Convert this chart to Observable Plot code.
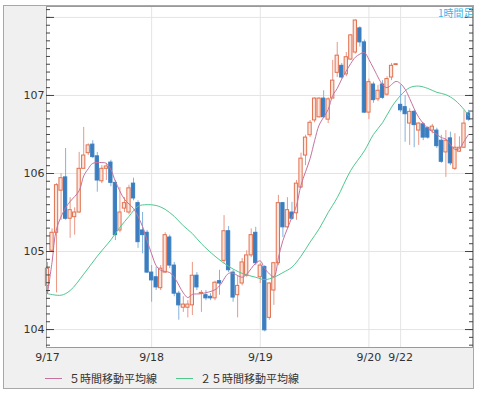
<!DOCTYPE html>
<html><head><meta charset="utf-8">
<script src="https://cdn.jsdelivr.net/npm/d3@7"></script>
<script src="https://cdn.jsdelivr.net/npm/@observablehq/plot@0.6"></script>
<style>body{margin:0;background:#fff}#chart{width:478px;height:395px}</style>
</head><body><div id="chart"></div>
<script>
const opens = [104.56,105.01,105.24,105.78,105.95,105.42,105.44,105.50,106.06,106.26,
106.37,106.22,105.90,106.06,106.14,105.88,105.27,105.55,105.50,105.87,
105.62,105.27,105.24,104.73,104.67,104.53,104.73,105.18,104.82,104.46,
104.28,104.28,104.31,104.69,104.46,104.44,104.42,104.40,104.62,104.88,
105.26,104.73,104.44,104.59,104.69,104.95,105.24,104.67,104.80,104.15,
104.50,104.85,105.62,105.31,105.50,105.49,105.82,106.23,106.49,106.68,
106.72,106.96,106.69,106.96,107.29,107.38,107.27,107.46,107.55,107.86,
107.68,106.78,107.14,106.95,107.14,107.01,107.23,107.39,106.88,106.85,
106.64,106.79,106.55,106.63,106.58,106.55,106.55,106.42,106.27,106.45,
106.06,106.28,106.33,106.77];
const highs = [104.86,105.29,105.87,106.00,106.32,105.69,105.56,106.27,106.59,106.38,
106.42,106.27,106.10,106.13,106.17,105.91,105.82,105.69,105.85,105.94,
105.65,105.50,105.27,104.82,104.80,104.82,105.24,105.21,104.86,104.49,
104.42,104.37,104.86,104.73,104.50,104.50,104.46,104.62,104.76,105.46,
105.32,104.76,104.69,104.91,105.01,105.29,105.31,104.85,104.82,104.60,
104.86,105.72,105.63,105.69,105.63,105.91,106.26,106.49,106.68,106.97,
106.97,107.06,106.97,107.45,107.68,107.41,107.55,107.78,107.97,107.88,
107.71,107.21,107.17,107.13,107.19,107.24,107.41,107.41,107.13,107.00,
106.83,106.81,106.65,106.65,106.60,106.63,106.58,106.49,106.55,106.53,
106.51,106.47,106.81,106.81];
const lows = [104.46,104.99,104.47,105.40,105.40,105.17,105.21,105.49,106.06,106.23,
106.19,105.76,105.87,105.91,105.83,105.14,105.24,105.50,105.47,105.65,
105.04,104.97,104.72,104.35,104.50,104.50,104.72,104.78,104.42,104.12,
104.22,104.15,104.18,104.50,104.22,104.37,104.37,104.37,104.44,104.85,
104.73,104.35,104.15,104.56,104.67,104.92,104.82,104.59,103.97,104.12,
104.31,104.82,105.18,105.29,105.40,105.40,105.81,106.10,106.46,106.65,
106.71,106.71,106.64,106.96,107.23,107.21,107.24,107.45,107.53,107.62,
106.77,106.69,106.90,106.92,106.95,106.99,107.19,107.38,106.78,106.40,
106.36,106.33,106.36,106.42,106.44,106.51,106.32,106.13,105.95,106.10,
106.04,106.27,106.32,106.67];
const closes = [104.78,105.24,105.85,105.94,105.42,105.53,105.50,106.06,106.23,106.36,
106.21,105.91,106.06,106.09,105.88,105.21,105.50,105.62,105.81,105.68,
105.12,105.21,104.73,104.63,104.54,104.78,105.21,104.82,104.46,104.31,
104.32,104.32,104.69,104.54,104.47,104.40,104.40,104.60,104.59,105.26,
104.76,104.41,104.56,104.86,104.95,105.21,104.85,104.82,103.99,104.59,
104.85,105.62,105.31,105.53,105.42,105.87,106.19,106.46,106.65,106.96,
106.96,106.72,106.95,107.19,107.51,107.23,107.49,107.77,107.96,107.68,
106.78,107.17,106.94,107.06,106.97,107.21,107.38,107.40,106.81,106.76,
106.79,106.62,106.64,106.46,106.46,106.60,106.35,106.15,106.42,106.13,
106.33,106.33,106.64,106.69];

const ma5Idx = [0,1,2,4,5,7,8,9,10,12,13,14,15,17,19,21,22,23,24,25,27,28,30,31,32,34,37,38,40,41,43,44,46,47,48,50,51,52,54,55,56,58,59,60,61,62,63,64,65,67,68,69,70,71,72,74,75,77,78,79,80,81,82,84,86,87,88,90,91,92,93];
const ma5Val = [104.46,104.86,105.29,105.56,105.64,105.78,105.97,106.06,106.13,106.14,106.13,106.05,105.90,105.67,105.55,105.32,105.14,104.97,104.82,104.76,104.73,104.67,104.47,104.41,104.45,104.46,104.51,104.56,104.72,104.72,104.67,104.71,104.85,104.88,104.78,104.68,104.92,105.14,105.44,105.59,105.85,106.19,106.42,106.62,106.72,106.82,107.00,107.09,107.21,107.41,107.49,107.53,107.55,107.46,107.35,107.14,107.10,107.18,107.15,107.08,106.96,106.83,106.72,106.58,106.50,106.46,106.44,106.31,106.32,106.41,106.50];
const ma25Idx = [0,3,5,8,11,14,16,18,20,22,24,26,28,30,32,34,37,40,43,46,48,50,52,54,56,58,60,62,64,67,70,72,74,76,78,80,82,84,86,88,90,92,93];
const ma25Val = [104.46,104.44,104.50,104.71,104.94,105.15,105.31,105.45,105.58,105.60,105.59,105.54,105.45,105.33,105.23,105.10,104.94,104.81,104.72,104.67,104.64,104.67,104.73,104.80,104.94,105.12,105.29,105.50,105.69,106.04,106.29,106.50,106.65,106.85,107.00,107.10,107.12,107.09,107.04,107.01,106.94,106.82,106.74];

const dayIdx = [0,23,47,71,78];
const dayLabels = ["9/17","9/18","9/19","9/20","9/22"];
const yLabels = [104,105,106,107];
const yGrid = [104,105,106,107,108];
const yMinor = d3.range(1038,1082).map(d => d/10);
const legendNames = ["５時間移動平均線","２５時間移動平均線"];
const periodLabel = "1時間足";

const MA5C = "#c4739f", MA25C = "#4fc88e";
const UPS = "#e0714f", UPF = "#fde5dd", UPW = "#eb9783";
const DNF = "#3b7ec0", DNW = "#83b3dc";

const candles = opens.map((o,i) => ({i, o, h: highs[i], l: lows[i], c: closes[i], up: closes[i] >= o}));
const ma5 = ma5Idx.map((i,k) => ({i, v: ma5Val[k]}));
const ma25 = ma25Idx.map((i,k) => ({i, v: ma25Val[k]}));

const chart = Plot.plot({
  width: 478, height: 395,
  marginLeft: 46, marginRight: 6, marginTop: 6, marginBottom: 48,
  style: {background: "white", fontFamily: "'DejaVu Sans', sans-serif", fontSize: "11px", color: "#333"},
  x: {type: "linear", domain: [-0.22, 93.88], label: null},
  y: {domain: [103.77, 108.14], label: null},
  color: {type: "identity"},
  marks: [
    Plot.frame({fill: "white", stroke: "none"}),
    Plot.gridY(yGrid, {stroke: "#e4e4e4", strokeOpacity: 1}),
    Plot.gridX(dayIdx.slice(1), {stroke: "#e4e4e4", strokeOpacity: 1}),
    Plot.ruleX(candles, {x: "i", y1: "l", y2: "h", stroke: d => d.up ? UPW : DNW}),
    Plot.rect(candles, {x1: d => d.i - 0.36, x2: d => d.i + 0.36, y1: "o", y2: "c",
      fill: d => d.up ? UPF : DNF, stroke: d => d.up ? UPS : DNF, strokeWidth: 1}),
    Plot.line(ma25, {x: "i", y: "v", stroke: MA25C, strokeWidth: 1, curve: "catmull-rom"}),
    Plot.line(ma5, {x: "i", y: "v", stroke: MA5C, strokeWidth: 1, curve: "catmull-rom"}),
    Plot.frame({stroke: "#999"}),
    Plot.axisY(yMinor, {anchor: "left", tickSize: 4, dx: 4, tickFormat: () => "", stroke: "#444"}),
    Plot.axisY(yGrid, {anchor: "left", tickSize: 8, dx: 8, tickFormat: () => "", stroke: "#444"}),
    Plot.axisY(yMinor, {anchor: "right", tickSize: 4, dx: -4, tickFormat: () => "", stroke: "#444"}),
    Plot.axisY(yGrid, {anchor: "right", tickSize: 8, dx: -8, tickFormat: () => "", stroke: "#444"}),
    Plot.axisY(yLabels, {anchor: "left", tickSize: 0, tickPadding: 2, fill: "#333", fontSize: 11,
      tickFormat: d => String(d)}),
    Plot.axisX(dayIdx, {anchor: "bottom", tickSize: 0, tickPadding: 6, fill: "#333", fontSize: 11,
      tickFormat: d => dayLabels[dayIdx.indexOf(d)]})
  ]
});

const svg = d3.select(chart);
svg.insert("rect", ":first-child")
  .attr("x", 3.5).attr("y", 5.5).attr("width", 470).attr("height", 383)
  .attr("fill", "#f0f0f0").attr("stroke", "#a8a8a8");
const lg = svg.append("g").attr("font-family", "'Noto Sans CJK JP', sans-serif").attr("font-size", 11)
  .attr("fill", "#333").attr("text-anchor", "start");
[[45, MA5C, 69], [176, MA25C, 200]].forEach(([x, c, tx], k) => {
  lg.append("line").attr("x1", x).attr("x2", x + 17).attr("y1", 378.5).attr("y2", 378.5).attr("stroke", c);
  lg.append("text").attr("x", tx).attr("y", 378).attr("dominant-baseline", "central").text(legendNames[k]);
});
svg.append("text").attr("x", 438).attr("y", 16.5).attr("font-size", 10).attr("text-anchor", "start")
  .attr("font-family", "'Noto Sans CJK JP', sans-serif").attr("fill", "#3cb4ea").text(periodLabel);

document.getElementById("chart").appendChild(chart);
</script>
</body></html>
